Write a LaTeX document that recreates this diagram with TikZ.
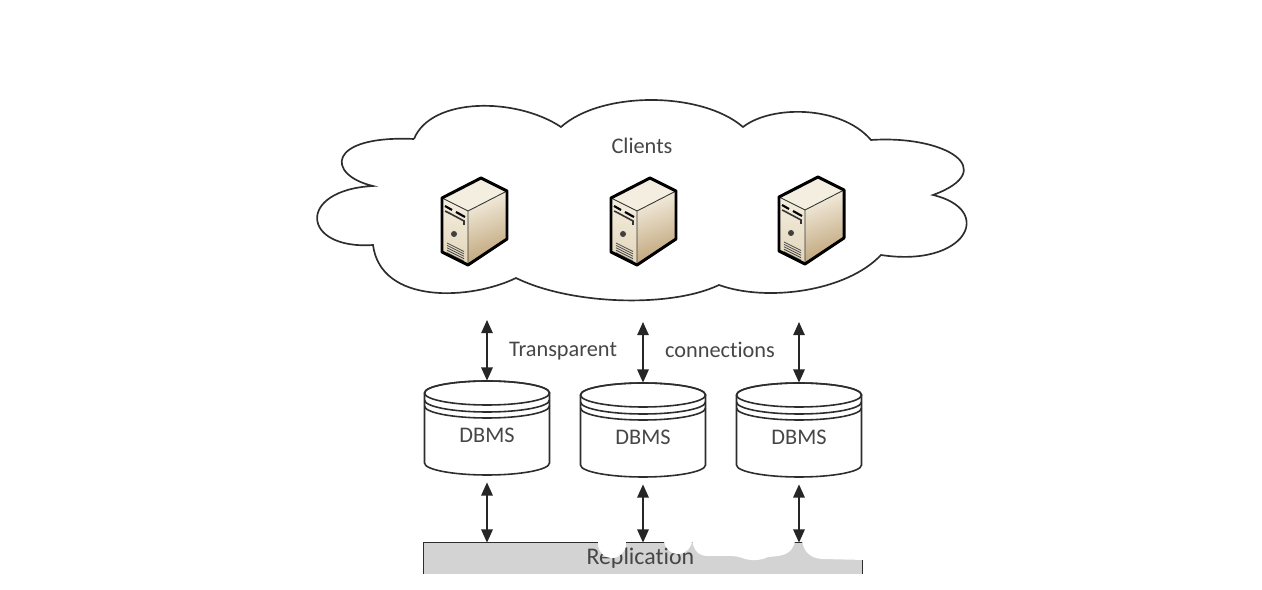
\documentclass[tikz,border=0pt]{standalone}
\usepackage{fontspec}
\setmainfont[Ligatures=NoCommon]{Carlito}
\usetikzlibrary{arrows.meta}
\definecolor{mydark}{RGB}{45,45,45}
\definecolor{mytext}{RGB}{70,70,70}
\definecolor{hdrgrey}{RGB}{211,211,211}
\definecolor{srvlight}{RGB}{244,238,224}
\definecolor{srvmid}{RGB}{226,212,184}
\definecolor{srvtan}{RGB}{190,162,118}
\tikzset{
  cloudline/.style={draw=mydark, line width=0.95pt, fill=white},
  dbline/.style={draw=mydark, line width=0.9pt},
  label/.style={font=\fontsize{12.7}{14}\selectfont, text=mytext, inner sep=0pt},
  dbbox/.style={rectangle, minimum width=125*0.02cm, minimum height=94*0.02cm, inner sep=0pt},
  linkarrow/.style={{Triangle[length=7.5pt,width=6.5pt]}-{Triangle[length=7.5pt,width=6.5pt]}, line width=0.95pt, color=black!85},
  patch/.style={fill=white, draw=none},
  serverbox/.pic={
    \path[left color=srvlight, right color=srvtan, shading angle=20] (26,33) -- (65,13) -- (65,61) -- (26,87) -- cycle;
    \path[top color=srvlight, bottom color=srvmid] (0,20) -- (26,33) -- (26,87) -- (0,74) -- cycle;
    \path[fill=srvlight] (0,20) -- (39,0) -- (65,13) -- (26,33) -- cycle;
    \draw[black, line width=1.2pt] (3,28) -- (10,32) (14,34) -- (23,39);
    \draw[black!80, line width=0.9pt] (3,33) -- (8,35.5) -- (22,43) -- (22,47);
    \fill[black!75] (12,56) circle (3);
    \foreach \v in {0,2.4,...,12} {
      \draw[black!70, line width=0.45pt] (5,65+\v) -- (22,73.5+\v);
    }
    \draw[black!80, line width=0.5pt] (0,20) -- (26,33) -- (65,13) (26,33) -- (26,87);
    \draw[black, line width=1.7pt, line join=round] (39,0) -- (65,13) -- (65,61) -- (26,87) -- (0,74) -- (0,20) -- cycle;
  }
}

\begin{document}
\begin{tikzpicture}[x=0.02cm, y=-0.02cm]
  \useasboundingbox (0,0) rectangle (1262,590);

  % Cloud
  \draw[cloudline] (414,139) .. controls (431,97) and (516,97) .. (561,127)
    .. controls (601,91) and (701,91) .. (743,127)
    .. controls (771,105) and (841,105) .. (871,140)
    .. controls (946,135) and (1001,170) .. (933,195)
    .. controls (996,210) and (966,268) .. (881,255)
    .. controls (846,292) and (766,302) .. (719,285)
    .. controls (671,308) and (571,305) .. (516,278)
    .. controls (471,300) and (381,305) .. (373,245)
    .. controls (301,250) and (296,190) .. (373,186)
    .. controls (326,175) and (326,135) .. (414,139);
  \node[label] (clients) at (642,146) {Clients};

  % Servers
  \pic (srv1) at (442,178) {serverbox};
  \pic (srv2) at (611,178) {serverbox};
  \pic (srv3) at (779,177) {serverbox};

  \node[label] (transparent) at (563,351) {Transparent};
  \node[label] (connections) at (720,350) {connections};

  % Replication bar
  \node[rectangle, fill=hdrgrey, minimum width=438*0.02cm, minimum height=31*0.02cm, inner sep=0pt, font=\fontsize{13.6}{15}\selectfont, text=mytext] (repl) at (643,558.5) {\hspace*{-3pt}\raisebox{-2pt}{Replication}};
  \draw[dbline] (repl.south west) -- (repl.north west) -- (repl.north east) -- (repl.south east);

  % Databases
  \foreach \n/\x/\y/\t in {1/487/381/435, 2/643/383/437, 3/799/383/437} {
    \begin{scope}[shift={(\x,\y)}]
      \draw[dbline, fill=white] (-62.5,12) -- (-62.5,82) arc[start angle=180, end angle=360, x radius=62.5, y radius=-12]
        -- (62.5,12) arc[start angle=0, end angle=180, x radius=62.5, y radius=-12];
      \draw[dbline] (0,12) ellipse[x radius=62.5, y radius=12];
      \draw[dbline] (-62.5,19) arc[start angle=180, end angle=360, x radius=62.5, y radius=-12];
      \draw[dbline] (-62.5,25) arc[start angle=180, end angle=360, x radius=62.5, y radius=-12];
      \node[dbbox] (db\n) at (0,47) {};
    \end{scope}
    \node[label] (dbtxt\n) at (\x,\t) {DBMS};
  }

  % Connections
  \coordinate (up1) at (487,320);
  \coordinate (up2) at (643,322);
  \coordinate (up3) at (799,322);
  \foreach \n in {1,2,3} {
    \draw[linkarrow] (up\n) -- (db\n.north);
    \draw[linkarrow, shorten <=4pt] (db\n.south) -- (db\n.south |- repl.north);
  }

  % Torn top edge of the bar
  \fill[patch] (612,544) circle (14);
  \fill[patch] (678,540) circle (14);
  \fill[patch] (692,541) .. controls (694,550) and (698,556) .. (708,556)
    .. controls (725,556) and (735,555) .. (742,558)
    .. controls (750,561) and (760,561) .. (768,557)
    .. controls (780,556) and (792,556) .. (795,541) -- cycle;
  \fill[patch] (802,541) .. controls (804,552) and (810,558) .. (822,559)
    -- (866,560) -- (866,541) -- cycle;
\end{tikzpicture}
\end{document}
